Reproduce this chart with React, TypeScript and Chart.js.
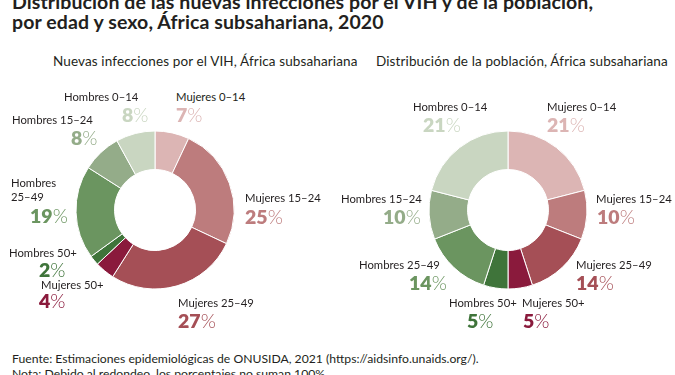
import React, { useEffect, useRef } from "react";
import { Chart, registerables } from "chart.js";

Chart.register(...registerables);

const categories = [
  "Mujeres 0–14",
  "Mujeres 15–24",
  "Mujeres 25–49",
  "Mujeres 50+",
  "Hombres 50+",
  "Hombres 25–49",
  "Hombres 15–24",
  "Hombres 0–14",
];
const infectionsShare = [7, 25, 27, 4, 2, 19, 8, 8];
const populationShare = [21, 10, 14, 5, 5, 14, 10, 21];

const colors = [
  "#dcb5b4",
  "#bd7c7d",
  "#a54f56",
  "#8a1a3c",
  "#3f743a",
  "#6b9560",
  "#94ac89",
  "#c9d6c1",
];

const titleLines = [
  "Distribución de las nuevas infecciones por el VIH y de la población,",
  "por edad y sexo, África subsahariana, 2020",
];
const subtitles = [
  "Nuevas infecciones por el VIH, África subsahariana",
  "Distribución de la población, África subsahariana",
];
const footerLines = [
  "Fuente: Estimaciones epidemiológicas de ONUSIDA, 2021 (https://aidsinfo.unaids.org/).",
  "Nota: Debido al redondeo, los porcentajes no suman 100%.",
];

// text layout for the labels (left edge / centre line)
const leftLayout = [
  { lines: null, lx: 176, ly: 97, px: 176, py: 115 },
  { lines: null, lx: 245, ly: 198, px: 245, py: 217 },
  { lines: null, lx: 178, ly: 303, px: 178, py: 321 },
  { lines: null, lx: 41, ly: 285, px: 39, py: 301 },
  { lines: null, lx: 9, ly: 253, px: 39, py: 270 },
  { lines: ["Hombres", "25–49"], lx: 11, ly: 183, px: 30, py: 216 },
  { lines: null, lx: 12, ly: 120, px: 71, py: 138 },
  { lines: null, lx: 64, ly: 97, px: 122, py: 115 },
];
const rightLayout = [
  { lines: null, lx: 547, ly: 107, px: 547, py: 125 },
  { lines: null, lx: 596, ly: 199, px: 597, py: 217 },
  { lines: null, lx: 576, ly: 265, px: 576, py: 283 },
  { lines: null, lx: 522, ly: 303, px: 523, py: 321 },
  { lines: null, lx: 449, ly: 303, px: 467, py: 321 },
  { lines: null, lx: 359, ly: 265, px: 409, py: 283 },
  { lines: null, lx: 341, ly: 199, px: 383, py: 217 },
  { lines: null, lx: 413, ly: 107, px: 423, py: 125 },
];

const FONT = "Lato, 'Open Sans', sans-serif";

function Donut({ values, cx, cy }: { values: number[]; cx: number; cy: number }) {
  const ref = useRef<HTMLCanvasElement | null>(null);
  useEffect(() => {
    if (!ref.current) return;
    const chart = new Chart(ref.current, {
      type: "doughnut",
      data: {
        labels: categories,
        datasets: [
          {
            data: values,
            backgroundColor: colors,
            borderColor: "#ffffff",
            borderWidth: 1,
          },
        ],
      },
      options: {
        responsive: false,
        animation: false,
        devicePixelRatio: 1,
        radius: 79,
        cutout: 51,
        layout: { padding: 0 },
        plugins: { legend: { display: false }, tooltip: { enabled: false } },
      },
    });
    return () => chart.destroy();
  }, [values]);
  const size = 200;
  return (
    <canvas
      ref={ref}
      width={size}
      height={size}
      style={{ position: "absolute", left: cx - size / 2, top: cy - size / 2, width: size, height: size }}
    />
  );
}

function Labels({ values, layout }: { values: number[]; layout: typeof leftLayout }) {
  return (
    <>
      {categories.map((c, i) => {
        const l = layout[i];
        const lines = l.lines || [c];
        return (
          <React.Fragment key={c}>
            {lines.map((t, j) => (
              <div
                key={j}
                style={{
                  position: "absolute",
                  left: l.lx,
                  top: l.ly + j * 14 - 8,
                  height: 16,
                  lineHeight: "16px",
                  fontSize: 11.3,
                  color: "#231f20",
                  whiteSpace: "nowrap",
                }}
              >
                {t}
              </div>
            ))}
            <div
              style={{
                position: "absolute",
                left: l.px,
                top: l.py - 11,
                height: 22,
                lineHeight: "22px",
                fontSize: 19.5,
                color: colors[i],
                whiteSpace: "nowrap",
              }}
            >
              <span style={{ fontWeight: 800 }}>{values[i]}</span>
              <span style={{ fontWeight: 300 }}>%</span>
            </div>
          </React.Fragment>
        );
      })}
    </>
  );
}

export default function App() {
  return (
    <div
      style={{
        position: "fixed",
        left: 0,
        top: 0,
        width: 675,
        height: 375,
        overflow: "hidden",
        background: "#ffffff",
        fontFamily: FONT,
        color: "#231f20",
      }}
    >
      {titleLines.map((t, i) => (
        <div
          key={i}
          style={{
            position: "absolute",
            left: 12,
            top: 2 + i * 20 - 12,
            lineHeight: "24px",
            fontSize: 19.5,
            letterSpacing: 0.1,
            fontWeight: 700,
            whiteSpace: "nowrap",
          }}
        >
          {t}
        </div>
      ))}
      {subtitles.map((t, i) => (
        <div
          key={i}
          style={{
            position: "absolute",
            left: i === 0 ? 53 : 376,
            top: 53,
            fontSize: 13.5,
            letterSpacing: 0.12,
            lineHeight: "16px",
            whiteSpace: "nowrap",
          }}
        >
          {t}
        </div>
      ))}
      <Donut values={infectionsShare} cx={154.5} cy={210} />
      <Donut values={populationShare} cx={507.5} cy={210} />
      <Labels values={infectionsShare} layout={leftLayout} />
      <Labels values={populationShare} layout={rightLayout} />
      {footerLines.map((t, i) => (
        <div
          key={i}
          style={{
            position: "absolute",
            left: 12,
            top: 359 + i * 15 - 8,
            fontSize: 12.2,
            lineHeight: "16px",
            whiteSpace: "nowrap",
          }}
        >
          {t}
        </div>
      ))}
    </div>
  );
}
